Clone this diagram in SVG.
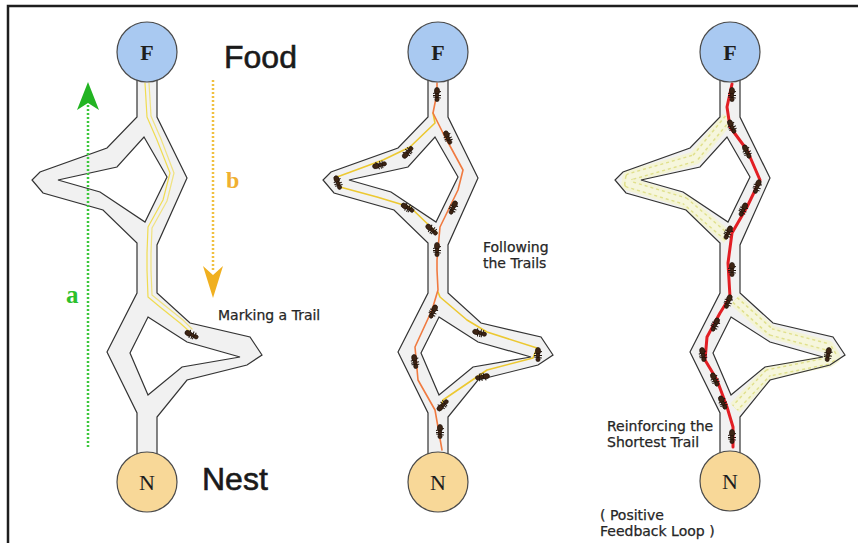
<svg xmlns="http://www.w3.org/2000/svg" xmlns:xlink="http://www.w3.org/1999/xlink" width="858" height="543" viewBox="0 0 858 543">
<style>
.tubefill{fill:#f1f1f1;fill-rule:evenodd;stroke:none}
.tubeline{fill:none;fill-rule:evenodd;stroke:#333333;stroke-width:1.2;stroke-linejoin:miter}
.food{fill:#a9c9f1;stroke:#4a4a4a;stroke-width:1.2}
.nest{fill:#f8d898;stroke:#4a4a4a;stroke-width:1.2}
.letter{font-family:"Liberation Serif",serif;font-size:22px;fill:#1e1e1e;text-anchor:middle}
.big{font-family:"Liberation Sans",Arial,sans-serif;font-size:32px;fill:#1a1a1a;stroke:#1a1a1a;stroke-width:0.6}
.lbl{font-family:"DejaVu Sans",Verdana,sans-serif;font-size:14px;fill:#262626;stroke:#262626;stroke-width:0.25}
.ant{fill:#3c2414;stroke:#1a0e06;stroke-width:0.6}
.yel{fill:none;stroke:#f0dc50;stroke-width:1.2;stroke-linecap:round;stroke-linejoin:round}
.yel2{fill:none;stroke:#ecc830;stroke-width:1.6;stroke-linecap:round;stroke-linejoin:round}
.ora{fill:none;stroke:#f07a40;stroke-width:1.6;stroke-linecap:round;stroke-linejoin:round}
.red{fill:none;stroke:#e21e24;stroke-width:3;stroke-linecap:round;stroke-linejoin:round}
.paleA{fill:none;stroke:#f4f4d6;stroke-width:13;stroke-linejoin:round}
.paleB{fill:none;stroke:#e0e08c;stroke-width:8;stroke-dasharray:3 3;stroke-linejoin:round}
.paleC{fill:none;stroke:#f6f6dc;stroke-width:5;stroke-linejoin:round}
</style>
<defs>
<path id="tube" d="M157,80 L157,117 L187,178 L157,245 L157,293 L190,323 L250,337 L262,355 L247,365 L187,380 L157,417 L157,456 L137,456 L137,413 L107,352 L137,293 L137,243 L103,210 L43,193 L32,180 L40,172 L107,148 L137,117 L137,80 Z M144,137 L167,177 L145,222 L100,192 L58,180 L117,167 Z M148,317 L187,342 L240,357 L182,367 L148,395 L130,353 Z"/>
<path id="longpath" d="M145,118 L112,158 L46,177 L45,184 L102,201 L145,238 M152,300 L188,332 L245,347 L251,357 L245,361 L185,373 L152,408"/>
<g id="ant" class="ant">
<path d="M-3.5,-4 L-1.5,4 M0.5,-4 L0.5,4 M3,-3.8 L2,3.8" stroke="#1e120a" stroke-width="1" fill="none"/>
<ellipse cx="-4" cy="0" rx="3.6" ry="2.6"/>
<ellipse cx="0.5" cy="0" rx="2" ry="1.8"/>
<ellipse cx="4.4" cy="0" rx="2.2" ry="2.1"/>
</g>
</defs>
<rect x="0" y="0" width="858" height="543" fill="#ffffff"/>
<path d="M8,543 V6 H858" fill="none" stroke="#1e1e1e" stroke-width="2.5"/>

<g id="panel1">
<use xlink:href="#tube" class="tubefill"/>
<use xlink:href="#tube" class="tubeline"/>
<path class="yel" d="M145,83 L147,117 L157,140 L170,173 L163,200 L148,227 L147,253 L147,270 L148,297 L160,307 L180,323 L190,332"/>
<path class="yel" d="M149,83 L151,116 L161,139 L174,173 L167,201 L152,228 L151,253 L151,270 L152,295 L163,304 L183,320 L192,329" opacity="0.7"/>
<use xlink:href="#ant" transform="translate(192,335) rotate(25)"/>
</g>

<g id="panel2">
<use xlink:href="#tube" class="tubefill" transform="translate(291,0)"/>
<use xlink:href="#tube" class="tubeline" transform="translate(291,0)"/>
<path class="yel2" d="M433,113 L435,123 L410,147 L383,160 L337,177 L340,187 L377,197 L410,207 L437,233"/>
<path class="yel2" d="M438,292 L440,297 L467,320 L487,332 L537,348 L533,358 L487,370 L443,400 L440,410"/>
<path class="ora" d="M437,83 L437,93 L433,113 L443,133 L463,170 L458,190 L440,227 L437,260 L437,270 L438,290 L432,310 L415,347 L418,380 L435,410 L442,450"/>
<use xlink:href="#ant" transform="translate(437,95) rotate(90)"/>
<use xlink:href="#ant" transform="translate(448,138) rotate(67)"/>
<use xlink:href="#ant" transform="translate(408,152) rotate(-50)"/>
<use xlink:href="#ant" transform="translate(380,165) rotate(-15)"/>
<use xlink:href="#ant" transform="translate(338,183) rotate(70)"/>
<use xlink:href="#ant" transform="translate(408,208) rotate(30)"/>
<use xlink:href="#ant" transform="translate(432,230) rotate(42)"/>
<use xlink:href="#ant" transform="translate(453,208) rotate(114)"/>
<use xlink:href="#ant" transform="translate(437,250) rotate(90)"/>
<use xlink:href="#ant" transform="translate(433,312) rotate(115)"/>
<use xlink:href="#ant" transform="translate(415,362) rotate(80)"/>
<use xlink:href="#ant" transform="translate(480,333) rotate(15)"/>
<use xlink:href="#ant" transform="translate(538,355) rotate(90)"/>
<use xlink:href="#ant" transform="translate(482,377) rotate(170)"/>
<use xlink:href="#ant" transform="translate(443,405) rotate(-45)"/>
<use xlink:href="#ant" transform="translate(440,432) rotate(90)"/>
</g>

<g id="panel3">
<use xlink:href="#tube" class="tubefill" transform="translate(583,0)"/>
<use xlink:href="#longpath" class="paleA" transform="translate(583,0)"/>
<use xlink:href="#longpath" class="paleB" transform="translate(583,0)"/>
<use xlink:href="#longpath" class="paleC" transform="translate(583,0)"/>
<use xlink:href="#tube" class="tubeline" transform="translate(583,0)"/>
<path class="red" d="M732,84 L727,107 L730,127 L747,150 L760,180 L747,207 L732,233 L728,263 L730,297 L720,313 L707,337 L705,360 L717,380 L727,407 L733,427 L733,447"/>
<use xlink:href="#ant" transform="translate(732,95) rotate(90)"/>
<use xlink:href="#ant" transform="translate(732,127) rotate(65)"/>
<use xlink:href="#ant" transform="translate(747,152) rotate(65)"/>
<use xlink:href="#ant" transform="translate(757,187) rotate(110)"/>
<use xlink:href="#ant" transform="translate(743,210) rotate(115)"/>
<use xlink:href="#ant" transform="translate(728,233) rotate(115)"/>
<use xlink:href="#ant" transform="translate(732,270) rotate(90)"/>
<use xlink:href="#ant" transform="translate(728,302) rotate(110)"/>
<use xlink:href="#ant" transform="translate(715,325) rotate(115)"/>
<use xlink:href="#ant" transform="translate(703,355) rotate(80)"/>
<use xlink:href="#ant" transform="translate(715,380) rotate(65)"/>
<use xlink:href="#ant" transform="translate(723,403) rotate(65)"/>
<use xlink:href="#ant" transform="translate(732,437) rotate(90)"/>
<use xlink:href="#ant" transform="translate(828,355) rotate(100)"/>
</g>

<g id="connectors">
<path d="M88,447 V104" fill="none" stroke="#3cc83c" stroke-width="2.5" stroke-dasharray="2 2"/>
<polygon points="88,82 99,110 88,103 77,110" fill="#22b422"/>
<path d="M213,80 V272" fill="none" stroke="#f0c040" stroke-width="2.5" stroke-dasharray="2 2"/>
<polygon points="213,298 203,266 213,275 223,266" fill="#f0b020"/>
</g>

<g id="food1"><circle class="food" cx="147" cy="52" r="30"/><text class="letter" x="147" y="60" font-weight="bold">F</text></g>
<g id="nest1"><circle class="nest" cx="147" cy="482" r="30"/><text class="letter" x="147" y="490">N</text></g>
<g id="food2"><circle class="food" cx="438" cy="52" r="30"/><text class="letter" x="438" y="60" font-weight="bold">F</text></g>
<g id="nest2"><circle class="nest" cx="438" cy="482" r="30"/><text class="letter" x="438" y="490">N</text></g>
<g id="food3"><circle class="food" cx="730" cy="52" r="30"/><text class="letter" x="730" y="60" font-weight="bold">F</text></g>
<g id="nest3"><circle class="nest" cx="730" cy="481" r="30"/><text class="letter" x="730" y="489">N</text></g>

<g id="labels">
<text class="big" x="224" y="68">Food</text>
<text class="big" x="202" y="490">Nest</text>
<text x="66" y="303" font-family="Liberation Serif,serif" font-weight="bold" font-size="25" fill="#2cc02c">a</text>
<text x="226" y="188" font-family="Liberation Serif,serif" font-weight="bold" font-size="24" fill="#f0b030">b</text>
<text class="lbl" x="218" y="320">Marking a Trail</text>
<text class="lbl" x="483" y="252">Following</text>
<text class="lbl" x="483" y="268">the Trails</text>
<text class="lbl" x="607" y="431">Reinforcing the</text>
<text class="lbl" x="607" y="447">Shortest Trail</text>
<text class="lbl" x="600" y="520">( Positive</text>
<text class="lbl" x="600" y="536">Feedback Loop )</text>
</g>
</svg>
